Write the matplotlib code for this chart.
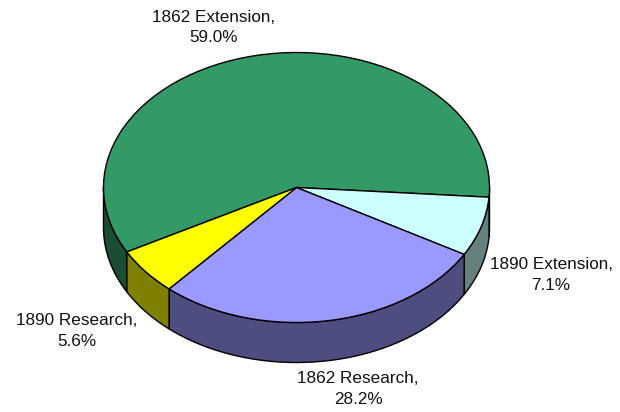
import numpy as np
import matplotlib
matplotlib.use("Agg")
import matplotlib.pyplot as plt
from matplotlib.patches import Polygon

labels = ["1862 Extension", "1890 Extension", "1862 Research", "1890 Research"]
values = [59.0, 7.1, 28.2, 5.6]
top_colors = ["#339966", "#CCFFFF", "#9999FF", "#FFFF00"]
side_colors = ["#1A4D33", "#668080", "#4D4D80", "#808000"]
label_text = ["1862 Extension,\n59.0%", "1890 Extension,\n7.1%", "1862 Research,\n28.2%", "1890 Research,\n5.6%"]
label_px = [(214, 27.5), (551, 275), (358, 389), (77, 331)]

W, H = 620, 412
CX, CY, RX, RY, DEPTH = 296.5, 187.5, 193.0, 135.0, 40.0
START = 208.5  # angle where the first slice begins, going clockwise

plt.rcParams["font.family"] = ["Liberation Sans", "DejaVu Sans"]
fig = plt.figure(figsize=(W / 100, H / 100), dpi=100, facecolor="white")
ax = fig.add_axes([0, 0, 1, 1])

wedges, _ = ax.pie(values, colors=top_colors, startangle=START, counterclock=False,
                   radius=1.0, normalize=True,
                   wedgeprops=dict(edgecolor="black", linewidth=1.0, zorder=3))
ax.set_aspect("auto")
ax.set_xlim(-CX / RX, (W - CX) / RX)
ax.set_ylim(-(H - CY) / RY, CY / RY)
ax.axis("off")

# Side walls: only the front half of each slice's rim is visible
d = DEPTH / RY
total = sum(values)
a = START
for v, c in zip(values, side_colors):
    b = a - 360 * v / total
    lo, hi = b, a
    for shift in (0, 360, -360):
        s, e = max(lo + shift, 180), min(hi + shift, 360)
        if e > s:
            t = np.radians(np.linspace(s, e, 80))
            x, y = np.cos(t), np.sin(t)
            pts = np.vstack([np.column_stack([x, y]),
                             np.column_stack([x[::-1], y[::-1] - d])])
            ax.add_patch(Polygon(pts, closed=True, facecolor=c, edgecolor="black",
                                 linewidth=1.0, zorder=2, joinstyle="round"))
    a = b

for txt, (px, py) in zip(label_text, label_px):
    ax.text(px / W, 1 - py / H, txt, transform=ax.transAxes, ha="center", va="center",
            fontsize=12.3, color="#111111", linespacing=1.45)

fig.savefig("out.png", dpi=100, facecolor="white")
